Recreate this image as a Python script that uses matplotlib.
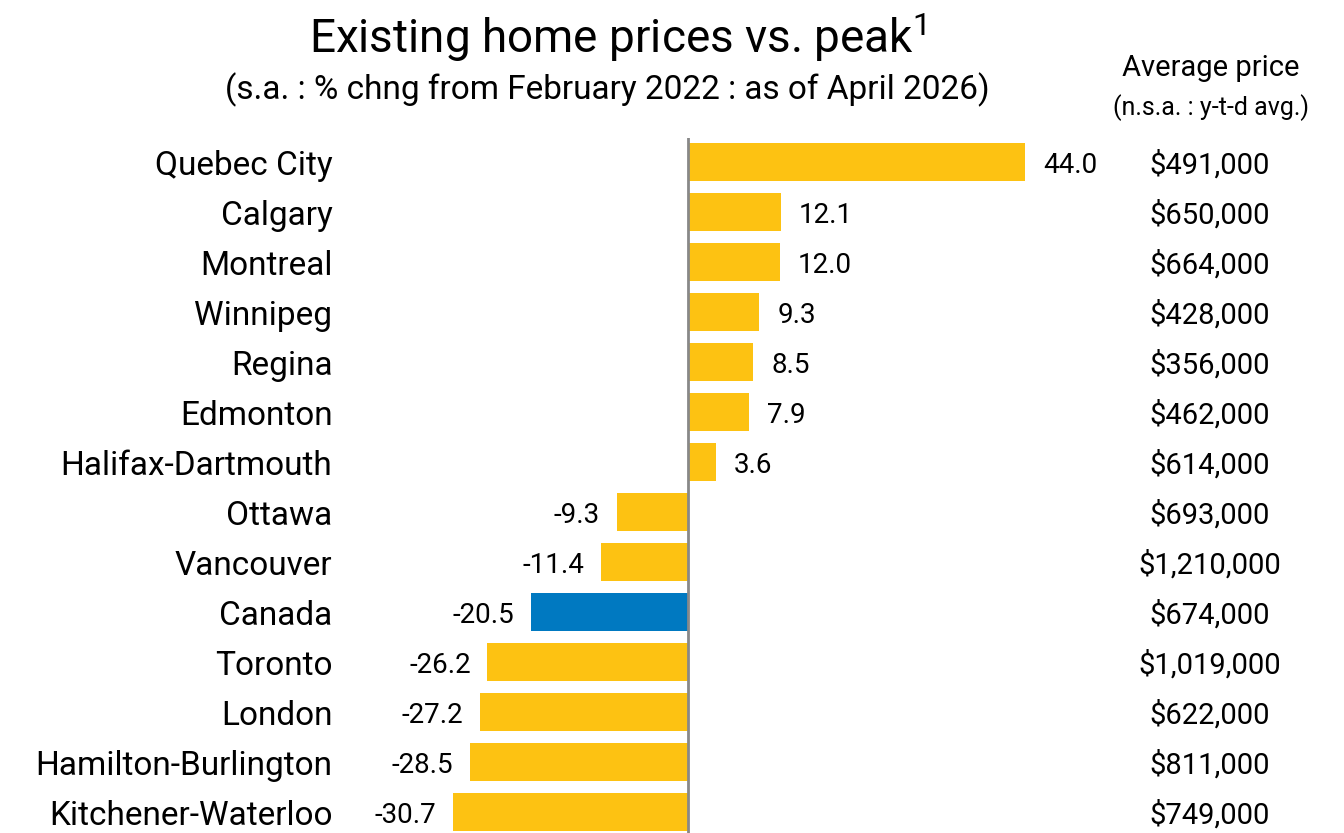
import matplotlib
matplotlib.use('Agg')
from matplotlib import pyplot as plt
import matplotlib.transforms as mtransforms

plt.rcParams['font.family'] = ['Roboto', 'DejaVu Sans']
plt.rcParams['mathtext.fontset'] = 'custom'
plt.rcParams['mathtext.rm'] = 'Roboto'

cities = ['Quebec City', 'Calgary', 'Montreal', 'Winnipeg', 'Regina', 'Edmonton',
          'Halifax-Dartmouth', 'Ottawa', 'Vancouver', 'Canada', 'Toronto', 'London',
          'Hamilton-Burlington', 'Kitchener-Waterloo']
change = [44.0, 12.1, 12.0, 9.3, 8.5, 7.9, 3.6, -9.3, -11.4, -20.5, -26.2, -27.2, -28.5, -30.7]
prices = ['$491,000', '$650,000', '$664,000', '$428,000', '$356,000', '$462,000',
          '$614,000', '$693,000', '$1,210,000', '$674,000', '$1,019,000', '$622,000',
          '$811,000', '$749,000']

yellow = '#FDC212'
blue = '#0079C1'
colors = [blue if c == 'Canada' else yellow for c in cities]

fig = plt.figure(figsize=(13.44, 8.33), dpi=100)
ax = fig.add_axes([345/1344, 0, (1110-345)/1344, 1-138/833])

y = list(range(len(cities)))
ax.barh(y, change, height=0.76, color=colors)
ax.set_xlim((345-688)/7.66, (1110-688)/7.66)
ax.set_ylim(13.42, -0.48)
ax.axvline(0, color='#888888', lw=2)

for s in ax.spines.values():
    s.set_visible(False)
ax.set_xticks([])
ax.set_yticks(y)
ax.set_yticklabels(cities, fontsize=24, va='center_baseline')
ax.tick_params(axis='y', length=0, pad=9)

for yi, v in zip(y, change):
    if v >= 0:
        ax.annotate(f'{v:.1f}', (v, yi), xytext=(13, 0), textcoords='offset points',
                    ha='left', va='center_baseline', fontsize=20)
    else:
        ax.annotate(f'{v:.1f}', (v, yi), xytext=(-12, 0), textcoords='offset points',
                    ha='right', va='center_baseline', fontsize=20)

# price column sits outside the axes, one row per bar
trans = mtransforms.blended_transform_factory(fig.transFigure, ax.transData)
for yi, p in zip(y, prices):
    ax.text(1210/1344, yi, p, transform=trans, ha='center', va='center_baseline', fontsize=21)

fig.text(1211/1344, 1-68/833, 'Average price', ha='center', va='center', fontsize=21)
fig.text(1211/1344, 1-108/833, '(n.s.a. : y-t-d avg.)', ha='center', va='center', fontsize=18)

fig.text(618/1344, 1-37/833, r'Existing home prices vs. peak$^{\mathrm{1}}$', ha='center',
         va='center', fontsize=33)
fig.text(607/1344, 1-90/833, '(s.a. : % chng from February 2022 : as of April 2026)',
         ha='center', va='center', fontsize=24)

plt.savefig('out.png', dpi=100)
